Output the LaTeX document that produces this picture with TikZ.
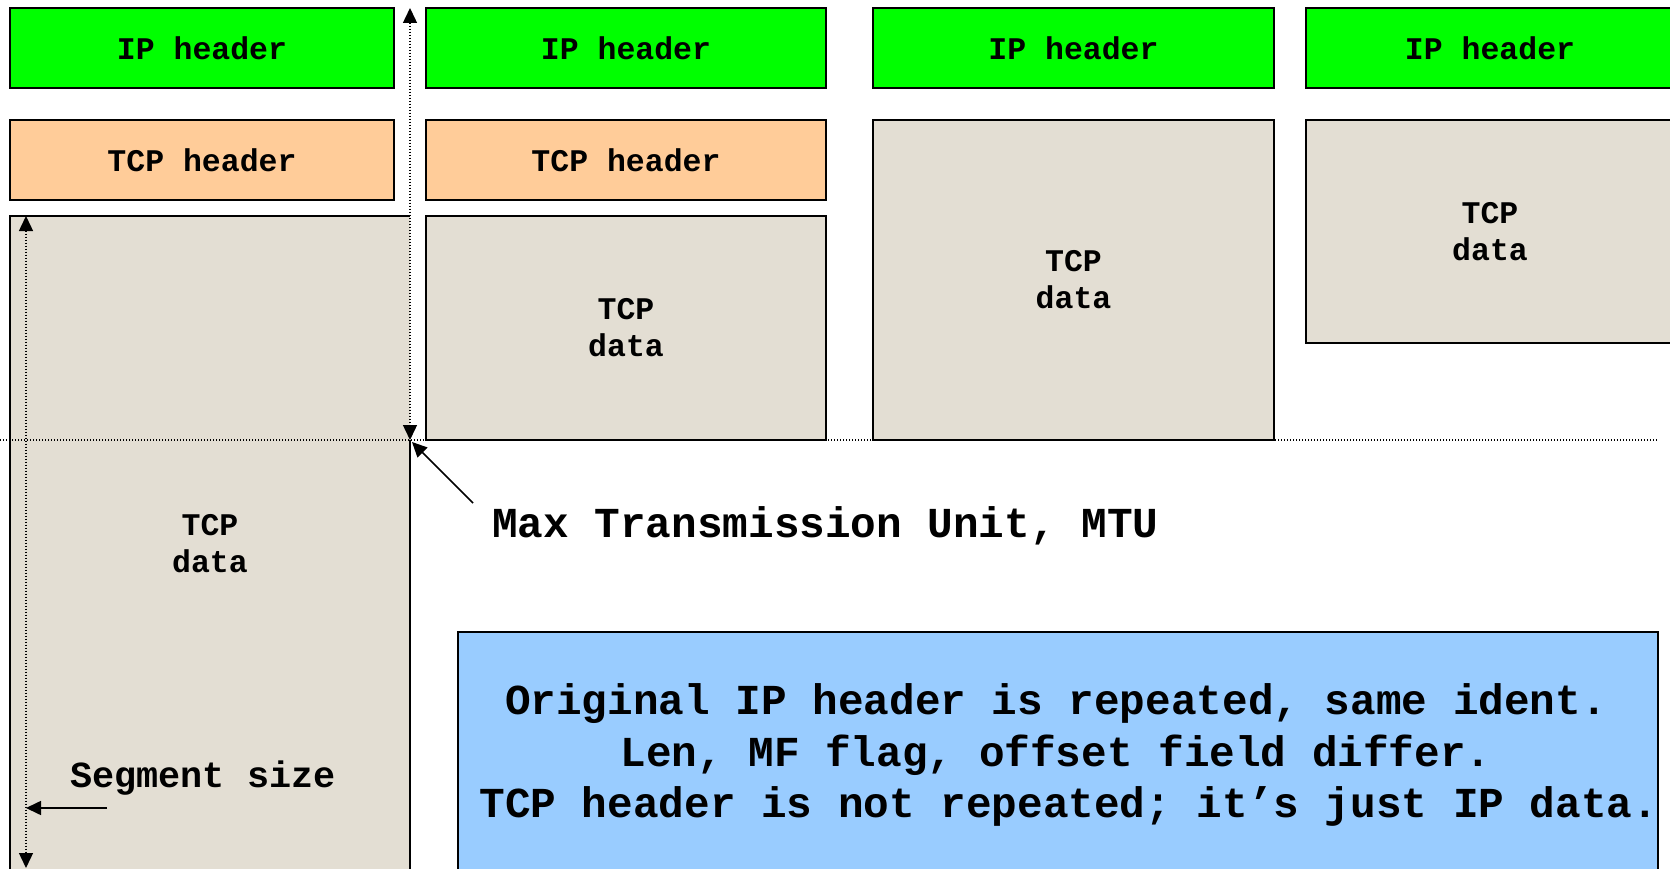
\documentclass[tikz,border=0pt]{standalone}
\usepackage{fontspec}
\setmonofont{Liberation Mono}
\usetikzlibrary{arrows.meta}
\definecolor{ipgreen}{HTML}{00FF00}
\definecolor{tcporange}{HTML}{FFCC99}
\definecolor{databeige}{HTML}{E3DED3}
\definecolor{noteblue}{HTML}{99CCFF}
\tikzset{
  box/.style={rectangle, draw=black, line width=1.6pt, inner sep=0pt, outer sep=0pt,
    font=\ttfamily\bfseries\fontsize{31.5}{37}\selectfont, align=center},
  iphdr/.style={box, fill=ipgreen},
  tcphdr/.style={box, fill=tcporange},
  databox/.style={box, fill=databeige},
  dotline/.style={line width=1.4pt, dash pattern=on 1.4pt off 1.6pt},
  tip/.style={-{Triangle[length=15pt,width=14pt]}},
  bigtext/.style={inner sep=0pt, font=\ttfamily\bfseries\fontsize{42.7}{51.5}\selectfont, align=center},
}
\begin{document}
\begin{tikzpicture}[x=1pt,y=-1pt]
\useasboundingbox (0,0) rectangle (1670,869);
\clip (0,0) rectangle (1670,869);
% column 1
\node[iphdr, minimum width=384pt, minimum height=80pt] (ip1) at (202,48) {IP header};
\node[tcphdr, minimum width=384pt, minimum height=80pt] (tcp1) at (202,160) {TCP header};
\node[databox, draw=none, minimum width=400pt, minimum height=656pt] (d1) at (210,544) {};
\node[box, draw=none, inner sep=0pt] (d1t) at (210,544) {TCP\\data};
\coordinate (mtu) at (410,440);
\coordinate (mtutop) at (410,8);
\draw[line width=1.6pt] (mtu) -- (d1.south east) -- (d1.south west) -- (d1.north west) -- (d1.north east);
% column 2
\node[iphdr, minimum width=400pt, minimum height=80pt] (ip2) at (626,48) {IP header};
\node[tcphdr, minimum width=400pt, minimum height=80pt] (tcp2) at (626,160) {TCP header};
\node[databox, minimum width=400pt, minimum height=224pt] (d2) at (626,328) {TCP\\data};
% column 3
\node[iphdr, minimum width=401pt, minimum height=80pt] (ip3) at (1073.5,48) {IP header};
\node[databox, minimum width=401pt, minimum height=320pt] (d3) at (1073.5,280) {TCP\\data};
% column 4
\node[iphdr, minimum width=368pt, minimum height=80pt] (ip4) at (1490,48) {IP header};
\node[databox, minimum width=368pt, minimum height=223pt] (d4) at (1490,231.5) {TCP\\data};
% MTU level
\coordinate (lvlL) at (0,440);
\coordinate (lvlR) at (1657,440);
\draw[dotline] (lvlL) -- (lvlR);
\draw[dotline, {Triangle[length=15pt,width=14pt]}-{Triangle[length=15pt,width=14pt]}] (mtutop) -- (mtu);
% segment size arrow
\coordinate (segtop) at (26,216);
\coordinate (segbot) at (26,868);
\draw[dotline, {Triangle[length=15pt,width=14pt]}-{Triangle[length=15pt,width=14pt]}] (segtop) -- (segbot);
\node[inner sep=0pt, font=\ttfamily\bfseries\fontsize{36.8}{44}\selectfont] (seg) at (203,778) {Segment size};
\coordinate (segfrom) at (107,808);
\coordinate (segto) at (26,808);
\draw[line width=1.6pt, tip] (segfrom) -- (segto);
% MTU label
\node[bigtext, anchor=west] (mtulabel) at (492,526) {Max Transmission Unit, MTU};
\coordinate (mtufrom) at (473,503);
\coordinate (mtuto) at (412,442);
\draw[line width=1.6pt, tip] (mtufrom) -- (mtuto);
% note
\node[rectangle, draw=black, line width=1.6pt, fill=noteblue, minimum width=1200pt, minimum height=240pt] (note) at (1058,752) {};
\node[bigtext] (notetext) at (1056,755) {Original IP header is repeated, same ident.\\Len, MF flag, offset field differ.\\\hspace*{0.6em}TCP header is not repeated; it’s just IP data.};
\end{tikzpicture}
\end{document}
